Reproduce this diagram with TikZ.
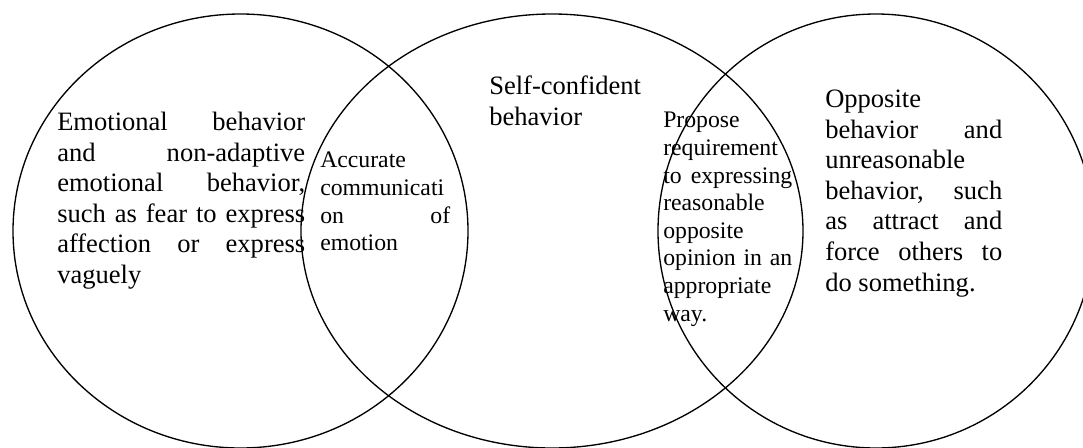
\documentclass[tikz,border=0pt]{standalone}
\usepackage{fontspec}
\setmainfont{Liberation Serif}
\usepackage{tikz}
\newcommand{\bigtxt}{\fontsize{19.9}{22.9}\selectfont}
\newcommand{\smalltxt}{\fontsize{17.8}{20.7}\selectfont}

\begin{document}
\begin{tikzpicture}[x=0.75pt,y=-0.75pt,
        ring/.style={black,line width=1pt},
        blurb/.style={inner sep=0pt,anchor=north west,align=justify}]
        \useasboundingbox (0,0) rectangle (1083,447);
        \clip (0,0) rectangle (1083,447);
        \draw [ring] (240.5,231) ellipse [x radius=227.5,y radius=217];
        \draw [ring] (552,231) ellipse [x radius=251,y radius=217];
        \draw [ring] (876,231) ellipse [x radius=218,y radius=217];
        \node (fearful) [blurb,text width=186pt,font=\bigtxt] at (57,112)
            {Emotional behavior\linebreak and non-adaptive\linebreak emotional behavior,\linebreak such as fear to express\linebreak affection or express\linebreak vaguely};
        \node (accurate) [blurb,text width=97.5pt,font=\smalltxt] at (320,152)
            {Accurate\linebreak communicati\linebreak on of\linebreak emotion};
        \node (confident) [inner sep=0pt,anchor=north west,align=left,font=\bigtxt] at (489,76)
            {Self-confident\\behavior};
        \node (propose) [blurb,text width=96.75pt,font=\smalltxt] at (663,112)
            {Propose\linebreak requirement\linebreak to expressing\linebreak reasonable\linebreak opposite\linebreak opinion in an\linebreak appropriate\linebreak way.};
        \node (opposite) [blurb,text width=132.75pt,font=\bigtxt] at (825,90)
            {Opposite\linebreak behavior and\linebreak unreasonable\linebreak behavior, such\linebreak as attract and\linebreak force others to\linebreak do something.};
\end{tikzpicture}
\end{document}
